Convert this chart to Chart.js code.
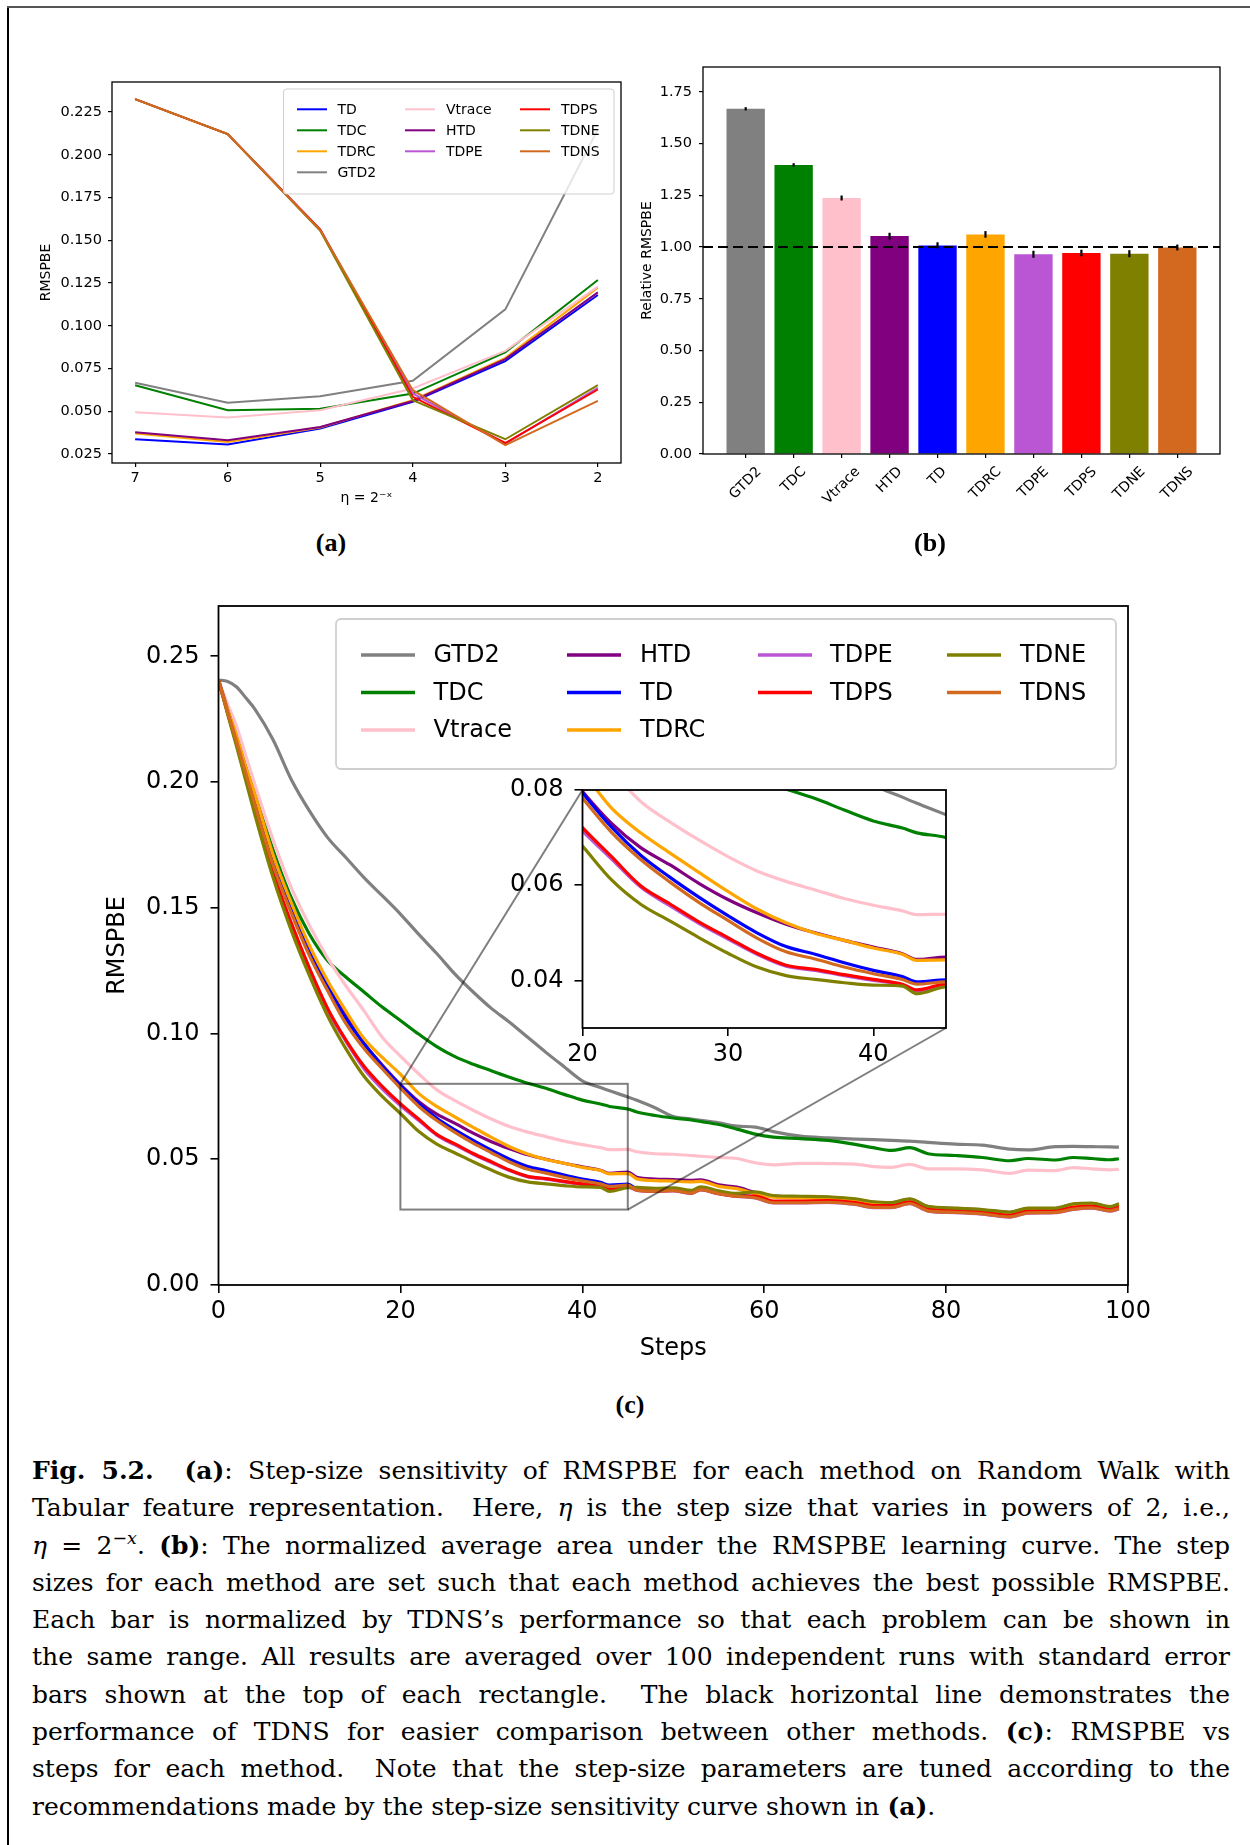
<!DOCTYPE html>
<html><head><meta charset="utf-8">
<script src="https://cdn.jsdelivr.net/npm/chart.js"></script>
<style>
body{margin:0;background:#fff;}
#page{position:relative;width:1250px;height:1845px;overflow:hidden;background:#fff;}
canvas{position:absolute;}
.plab{position:absolute;font-family:"Liberation Serif",serif;font-weight:bold;font-size:26px;transform:translate(-50%,-50%);white-space:nowrap;}
#caption{position:absolute;left:32px;top:1452px;width:1198px;font-family:"DejaVu Serif",serif;font-size:25px;color:#000;}
#caption .ln{height:37.3px;line-height:37.3px;text-align:justify;text-align-last:justify;overflow:visible;}
#caption .ln.last{text-align-last:left;}
#caption sup{font-size:0.7em;line-height:0;vertical-align:0.55em;}
.bl{position:absolute;background:#000;}
</style></head>
<body><div id="page">
<div class="bl" style="left:7px;top:6px;width:1.5px;height:1839px;"></div>
<div class="bl" style="left:7px;top:6px;width:1243px;height:1.5px;background:#555;"></div>
<canvas id="cA" width="620" height="465" style="left:20px;top:60px;"></canvas>
<canvas id="cB" width="615" height="480" style="left:630px;top:50px;"></canvas>
<canvas id="cC" width="1060" height="800" style="left:100px;top:590px;"></canvas>
<canvas id="cI" width="460" height="300" style="left:500px;top:775px;z-index:2;"></canvas>
<div class="plab" style="left:331px;top:543px;">(a)</div>
<div class="plab" style="left:930px;top:543px;">(b)</div>
<div class="plab" style="left:630px;top:1405px;">(c)</div>
<div id="caption">
<div class="ln"><b>Fig. 5.2.</b> &nbsp;<b>(a)</b>: Step-size sensitivity of RMSPBE for each method on Random Walk with</div>
<div class="ln">Tabular feature representation. &nbsp;Here, <i>η</i> is the step size that varies in powers of 2, i.e.,</div>
<div class="ln"><i>η</i> = 2<sup>−<i>x</i></sup>. <b>(b)</b>: The normalized average area under the RMSPBE learning curve. The step</div>
<div class="ln">sizes for each method are set such that each method achieves the best possible RMSPBE.</div>
<div class="ln">Each bar is normalized by TDNS’s performance so that each problem can be shown in</div>
<div class="ln">the same range. All results are averaged over 100 independent runs with standard error</div>
<div class="ln">bars shown at the top of each rectangle. &nbsp;The black horizontal line demonstrates the</div>
<div class="ln">performance of TDNS for easier comparison between other methods. <b>(c)</b>: RMSPBE vs</div>
<div class="ln">steps for each method. &nbsp;Note that the step-size parameters are tuned according to the</div>
<div class="ln last">recommendations made by the step-size sensitivity curve shown in <b>(a)</b>.</div>
</div>
</div>
<script>
// ---------------- DATA ----------------
// (a) step-size sensitivity, eta = 2^-x
const etaExponents = [7, 6, 5, 4, 3, 2];
const sensYTicks = [0.025, 0.05, 0.075, 0.1, 0.125, 0.15, 0.175, 0.2, 0.225];
const sensTD     = [0.0336, 0.0305, 0.0398, 0.0555, 0.0793, 0.1180];
const sensTDC    = [0.0652, 0.0506, 0.0514, 0.0603, 0.0844, 0.1268];
const sensTDRC   = [0.0370, 0.0320, 0.0405, 0.0565, 0.0812, 0.1223];
const sensGTD2   = [0.0666, 0.0550, 0.0588, 0.0678, 0.1096, 0.2150];
const sensVtrace = [0.0494, 0.0463, 0.0506, 0.0633, 0.0853, 0.1229];
const sensHTD    = [0.0377, 0.0330, 0.0408, 0.0560, 0.0805, 0.1195];
const sensTDPE   = [0.2326, 0.2121, 0.1564, 0.0604, 0.0311, 0.0637];
const sensTDPS   = [0.2326, 0.2121, 0.1562, 0.0584, 0.0314, 0.0627];
const sensTDNE   = [0.2326, 0.2121, 0.1555, 0.0565, 0.0336, 0.0652];
const sensTDNS   = [0.2326, 0.2121, 0.1560, 0.0623, 0.0301, 0.0561];

// (b) relative area under curve
const barMethods  = ['GTD2', 'TDC', 'Vtrace', 'HTD', 'TD', 'TDRC', 'TDPE', 'TDPS', 'TDNE', 'TDNS'];
const barRelative = [1.668, 1.397, 1.237, 1.053, 1.008, 1.061, 0.965, 0.971, 0.968, 0.998];
const barErrors   = [0.008, 0.008, 0.012, 0.016, 0.015, 0.016, 0.017, 0.016, 0.017, 0.014];
const barYTicks   = [0, 0.25, 0.5, 0.75, 1.0, 1.25, 1.5, 1.75];
const barReference = 1.0;

// (c) learning curves
const steps = [0,1,2,3,4,6,8,10,12,14,16,18,20,22,24,26,28,30,32,34,36,38,40,42,43,45,46,48,50,52,53,55,57,59,61,64,67,70,72,74,76,78,81,84,87,89,92,94,96,98,99];
const curveGTD2 = [0.2405,0.2400,0.2378,0.2335,0.2290,0.2168,0.2010,0.1885,0.1779,0.1700,0.1620,0.1548,0.1475,0.1395,0.1318,0.1236,0.1165,0.1100,0.1045,0.0985,0.0925,0.0868,0.0812,0.0785,0.0772,0.0748,0.0735,0.0705,0.0670,0.0660,0.0655,0.0645,0.0632,0.0628,0.0610,0.0592,0.0585,0.0580,0.0578,0.0575,0.0572,0.0567,0.0560,0.0556,0.0540,0.0537,0.0550,0.0551,0.0550,0.0549,0.0548];
const curveTDC = [0.2405,0.2290,0.2180,0.2060,0.1950,0.1730,0.1540,0.1395,0.1290,0.1225,0.1165,0.1105,0.1052,0.0998,0.0948,0.0908,0.0878,0.0852,0.0826,0.0802,0.0782,0.0758,0.0735,0.0720,0.0710,0.0700,0.0688,0.0674,0.0664,0.0656,0.0650,0.0638,0.0620,0.0600,0.0588,0.0582,0.0575,0.0559,0.0546,0.0535,0.0546,0.0522,0.0515,0.0507,0.0494,0.0503,0.0497,0.0507,0.0503,0.0498,0.0502];
const curveVtrace = [0.2405,0.2310,0.2220,0.2105,0.1990,0.1770,0.1580,0.1430,0.1300,0.1190,0.1090,0.0985,0.0910,0.0840,0.0776,0.0733,0.0695,0.0660,0.0630,0.0608,0.0590,0.0572,0.0558,0.0546,0.0538,0.0539,0.0530,0.0522,0.0520,0.0515,0.0512,0.0507,0.0503,0.0486,0.0478,0.0484,0.0483,0.0481,0.0471,0.0468,0.0480,0.0462,0.0462,0.0458,0.0444,0.0457,0.0455,0.0467,0.0462,0.0458,0.0460];
const curveHTD = [0.2405,0.2285,0.2170,0.2050,0.1930,0.1690,0.1500,0.1330,0.1190,0.1070,0.0960,0.0875,0.0797,0.0730,0.0679,0.0643,0.0604,0.0570,0.0542,0.0518,0.0500,0.0484,0.0470,0.0456,0.0444,0.0449,0.0428,0.0421,0.0419,0.0416,0.0418,0.0398,0.0389,0.0368,0.0354,0.0351,0.0349,0.0341,0.0329,0.0326,0.0341,0.0311,0.0304,0.0298,0.0288,0.0304,0.0304,0.0321,0.0324,0.0310,0.0321];
const curveTD = [0.2405,0.2285,0.2170,0.2050,0.1930,0.1690,0.1500,0.1330,0.1190,0.1060,0.0960,0.0870,0.0794,0.0722,0.0663,0.0617,0.0575,0.0536,0.0500,0.0471,0.0455,0.0437,0.0421,0.0408,0.0397,0.0401,0.0382,0.0378,0.0380,0.0370,0.0384,0.0368,0.0358,0.0349,0.0329,0.0329,0.0331,0.0323,0.0311,0.0311,0.0326,0.0297,0.0291,0.0285,0.0273,0.0289,0.0291,0.0304,0.0309,0.0297,0.0305];
const curveTDRC = [0.2405,0.2290,0.2180,0.2060,0.1950,0.1710,0.1520,0.1350,0.1210,0.1090,0.0980,0.0905,0.0838,0.0762,0.0710,0.0668,0.0627,0.0587,0.0550,0.0521,0.0499,0.0484,0.0468,0.0455,0.0442,0.0443,0.0422,0.0415,0.0413,0.0410,0.0412,0.0392,0.0383,0.0363,0.0349,0.0346,0.0344,0.0336,0.0324,0.0321,0.0336,0.0306,0.0299,0.0293,0.0283,0.0299,0.0299,0.0316,0.0319,0.0305,0.0316];
const curveTDPE = [0.2405,0.2275,0.2150,0.2020,0.1890,0.1640,0.1430,0.1250,0.1090,0.0970,0.0860,0.0780,0.0714,0.0655,0.0596,0.0557,0.0520,0.0487,0.0455,0.0430,0.0421,0.0410,0.0400,0.0390,0.0378,0.0390,0.0376,0.0372,0.0374,0.0364,0.0378,0.0362,0.0352,0.0346,0.0326,0.0326,0.0328,0.0320,0.0308,0.0308,0.0323,0.0294,0.0288,0.0282,0.0270,0.0286,0.0288,0.0301,0.0306,0.0294,0.0302];
const curveTDPS = [0.2405,0.2275,0.2150,0.2020,0.1890,0.1640,0.1440,0.1260,0.1100,0.0975,0.0870,0.0790,0.0721,0.0660,0.0599,0.0561,0.0523,0.0490,0.0457,0.0432,0.0423,0.0412,0.0402,0.0392,0.0380,0.0392,0.0378,0.0374,0.0376,0.0366,0.0380,0.0364,0.0354,0.0354,0.0334,0.0334,0.0336,0.0328,0.0316,0.0316,0.0331,0.0302,0.0296,0.0290,0.0278,0.0294,0.0296,0.0309,0.0314,0.0302,0.0310];
const curveTDNE = [0.2405,0.2270,0.2140,0.2005,0.1870,0.1620,0.1410,0.1230,0.1070,0.0940,0.0830,0.0750,0.0682,0.0611,0.0560,0.0525,0.0490,0.0457,0.0428,0.0410,0.0402,0.0395,0.0390,0.0388,0.0372,0.0387,0.0388,0.0384,0.0386,0.0376,0.0390,0.0374,0.0364,0.0370,0.0356,0.0353,0.0351,0.0343,0.0331,0.0328,0.0343,0.0313,0.0306,0.0300,0.0290,0.0306,0.0306,0.0323,0.0326,0.0312,0.0323];
const curveTDNS = [0.2405,0.2280,0.2160,0.2035,0.1910,0.1670,0.1480,0.1310,0.1170,0.1040,0.0940,0.0860,0.0783,0.0711,0.0654,0.0607,0.0564,0.0526,0.0489,0.0460,0.0445,0.0428,0.0414,0.0402,0.0392,0.0397,0.0377,0.0373,0.0375,0.0365,0.0379,0.0363,0.0353,0.0347,0.0327,0.0327,0.0329,0.0321,0.0309,0.0309,0.0324,0.0295,0.0289,0.0283,0.0271,0.0287,0.0289,0.0302,0.0307,0.0295,0.0303];
const curveXTicks = [0, 20, 40, 60, 80, 100];
const curveYTicks = [0, 0.05, 0.10, 0.15, 0.20, 0.25];
const zoomX = [20, 45];
const zoomY = [0.03, 0.08];
const insetXTicks = [20, 30, 40];
const insetYTicks = [0.04, 0.06, 0.08];

// ---------------- STYLE ----------------
const COLORS = {TD:'#0000ff', TDC:'#008000', TDRC:'#ffa500', GTD2:'#808080', Vtrace:'#ffc0cb', HTD:'#800080', TDPE:'#ba55d3', TDPS:'#ff0000', TDNE:'#808000', TDNS:'#d2691e'};
Chart.defaults.font.family = 'DejaVu Sans';
Chart.defaults.color = '#000';
const FONT = 'DejaVu Sans';

const sensTable = {TD:sensTD, TDC:sensTDC, TDRC:sensTDRC, GTD2:sensGTD2, Vtrace:sensVtrace, HTD:sensHTD, TDPE:sensTDPE, TDPS:sensTDPS, TDNE:sensTDNE, TDNS:sensTDNS};
const curveTable = {GTD2:curveGTD2, TDC:curveTDC, Vtrace:curveVtrace, HTD:curveHTD, TD:curveTD, TDRC:curveTDRC, TDPE:curveTDPE, TDPS:curveTDPS, TDNE:curveTDNE, TDNS:curveTDNS};
const orderA = ['TD','TDC','TDRC','GTD2','Vtrace','HTD','TDPE','TDPS','TDNE','TDNS'];
const orderC = ['GTD2','TDC','Vtrace','HTD','TD','TDRC','TDPE','TDPS','TDNE','TDNS'];

function frame(chart, w){
  const {ctx, chartArea:ca} = chart;
  ctx.save(); ctx.strokeStyle='#000'; ctx.lineWidth=w;
  ctx.strokeRect(ca.left, ca.top, ca.right-ca.left, ca.bottom-ca.top);
  ctx.restore();
}
function drawLegend(chart, L){
  const {ctx, chartArea:ca} = chart;
  const bx = ca.left + L.left, by = ca.top + L.top;
  ctx.save();
  ctx.beginPath(); ctx.roundRect(bx, by, L.w, L.h, L.radius);
  ctx.fillStyle='rgba(255,255,255,0.8)'; ctx.fill();
  ctx.lineWidth=L.border; ctx.strokeStyle='#cfcfcf'; ctx.stroke();
  ctx.font = L.fontSize + 'px "' + FONT + '"'; ctx.textBaseline='middle'; ctx.textAlign='left';
  L.columns.forEach((col, ci) => col.forEach((name, ri) => {
    const y = by + L.rowY0 + ri*L.rowDy;
    ctx.strokeStyle = COLORS[name]; ctx.lineWidth = L.handleWidth; ctx.lineCap='butt';
    ctx.beginPath(); ctx.moveTo(bx+L.handleX[ci], y); ctx.lineTo(bx+L.handleX[ci]+L.handleLen, y); ctx.stroke();
    ctx.fillStyle='#000'; ctx.fillText(name, bx+L.textX[ci], y+1);
  }));
  ctx.restore();
}
function axisOpts(o){
  return {
    type:'linear', min:o.min, max:o.max, reverse:!!o.reverse, offset:false,
    afterBuildTicks: s => { s.ticks = o.ticks.map(v => ({value:v})); },
    afterFit: s => {
      if (o.axis==='x') s.height = o.size; else s.width = o.size;
      s.paddingTop = 0; s.paddingBottom = 0; s.paddingLeft = 0; s.paddingRight = 0;
    },
    ticks:{display:o.showLabels!==false, font:{family:FONT, size:o.font}, color:'#000', padding:o.pad, maxRotation:0, minRotation:0, autoSkip:false,
      callback: v => o.fmt(v)},
    grid:{display:true, drawOnChartArea:false, drawTicks:true, tickLength:o.tl, color:'#000', lineWidth:o.tw, offset:false},
    border:{display:false},
    title: o.title ? {display:true, text:o.title, font:{family:FONT, size:o.titleSize}, color:'#000', padding:o.titlePad} : {display:false}
  };
}

// ---------------- (a) ----------------
new Chart(document.getElementById('cA'), {
  type:'line',
  data:{datasets: orderA.map((m,i) => ({
    label:m, data: etaExponents.map((x,j) => ({x:x, y:sensTable[m][j]})),
    borderColor:COLORS[m], backgroundColor:COLORS[m], borderWidth:2, pointRadius:0, tension:0, fill:false, order: orderA.length - i
  }))},
  options:{
    responsive:false, animation:false, devicePixelRatio:1,
    layout:{padding:{left:0, top:22, right:19, bottom:0}},
    plugins:{legend:{display:false}, tooltip:{enabled:false}},
    scales:{
      x: axisOpts({axis:'x', min:1.75, max:7.25, reverse:true, ticks:etaExponents, size:62, font:14.5, pad:3, tl:4, tw:1.2, fmt:v=>String(v), title:'η = 2⁻ˣ', titleSize:14, titlePad:{top:0,bottom:18}}),
      y: axisOpts({axis:'y', min:0.0197, max:0.2426, ticks:sensYTicks, size:92, font:14.5, pad:6, tl:4, tw:1.2, fmt:v=>v.toFixed(3), title:'RMSPBE', titleSize:14, titlePad:{top:18,bottom:0}})
    }
  },
  plugins:[{id:'decoA', afterDatasetsDraw(chart){
    frame(chart, 1.3);
    drawLegend(chart, {left:171.5, top:7, w:330.5, h:105, radius:3, border:1, fontSize:14,
      handleX:[13.5,121.5,236.5], textX:[54,162.5,277.5], handleLen:30, handleWidth:2, rowY0:20.3, rowDy:21,
      columns:[orderA.slice(0,4), orderA.slice(4,7), orderA.slice(7)]});
  }}]
});

// ---------------- (b) ----------------
new Chart(document.getElementById('cB'), {
  type:'bar',
  data:{datasets:[{
    data: barMethods.map((m,i) => ({x:i, y:barRelative[i]})),
    backgroundColor: barMethods.map(m => COLORS[m]), borderWidth:0,
    barPercentage:0.8, categoryPercentage:1.0
  }]},
  options:{
    responsive:false, animation:false, devicePixelRatio:1,
    layout:{padding:{left:0, top:17, right:25, bottom:0}},
    plugins:{legend:{display:false}, tooltip:{enabled:false}},
    scales:{
      x: axisOpts({axis:'x', min:-0.89, max:9.89, ticks:barMethods.map((m,i)=>i), showLabels:false, size:76, font:14, pad:3, tl:4, tw:1.2, fmt:v=>''}),
      y: axisOpts({axis:'y', min:0, max:1.87, ticks:barYTicks, size:73, font:14.5, pad:7, tl:4, tw:1.2, fmt:v=>v.toFixed(2), title:'Relative RMSPBE', titleSize:14, titlePad:{top:8.5,bottom:0}})
    }
  },
  plugins:[{id:'decoB', afterDatasetsDraw(chart){
    const {ctx, chartArea:ca, scales:{x:xs, y:ys}} = chart;
    const meta = chart.getDatasetMeta(0);
    ctx.save();
    ctx.strokeStyle='#000'; ctx.lineWidth=2.2;
    meta.data.forEach((bar, i) => {
      ctx.beginPath();
      ctx.moveTo(bar.x, ys.getPixelForValue(barRelative[i]-barErrors[i]));
      ctx.lineTo(bar.x, ys.getPixelForValue(barRelative[i]+barErrors[i]));
      ctx.stroke();
    });
    const yr = ys.getPixelForValue(barReference);
    ctx.setLineDash([10,5]); ctx.lineWidth=2;
    ctx.beginPath(); ctx.moveTo(ca.left, yr); ctx.lineTo(ca.right, yr); ctx.stroke();
    ctx.setLineDash([]);
    ctx.restore();
    frame(chart, 1.3);
  }, afterDraw(chart){
    const {ctx, chartArea:ca, scales:{x:xs}} = chart;
    ctx.save();
    ctx.font = '14px "' + FONT + '"'; ctx.fillStyle='#000';
    barMethods.forEach((m,i) => {
      const x = xs.getPixelForValue(i);
      const w = ctx.measureText(m).width;
      const bh = (w + 13) * Math.SQRT1_2;
      const cy = ca.bottom + 11 + bh/2;
      ctx.save(); ctx.translate(x, cy); ctx.rotate(-Math.PI/4);
      ctx.textAlign='center'; ctx.textBaseline='middle'; ctx.fillText(m, 0, 0);
      ctx.restore();
    });
    ctx.restore();
  }}]
});

// ---------------- (c) inset ----------------
function curveDatasets(width, clip){
  return orderC.map((m,i) => ({
    label:m, data: steps.map((s,j) => ({x:s, y:curveTable[m][j]})),
    borderColor:COLORS[m], backgroundColor:COLORS[m], borderWidth:width, pointRadius:0,
    cubicInterpolationMode:'monotone', fill:false, order: orderC.length - i, clip: clip
  }));
}
const insetCanvas = document.getElementById('cI');
const mainCanvas = document.getElementById('cC');
const inset = new Chart(insetCanvas, {
  type:'line',
  data:{datasets: curveDatasets(3.2, 0)},
  options:{
    responsive:false, animation:false, devicePixelRatio:1,
    layout:{padding:{left:0, top:15, right:14, bottom:0}},
    plugins:{legend:{display:false}, tooltip:{enabled:false}},
    scales:{
      x: axisOpts({axis:'x', min:zoomX[0], max:zoomX[1], ticks:insetXTicks, size:47, font:24, pad:4.5, tl:8, tw:1.6, fmt:v=>String(v)}),
      y: axisOpts({axis:'y', min:zoomY[0], max:zoomY[1], ticks:insetYTicks, size:82.5, font:24, pad:11, tl:8, tw:1.6, fmt:v=>v.toFixed(2)})
    }
  },
  plugins:[{id:'bgI', beforeDatasetsDraw(chart){
    const {ctx, chartArea:ca} = chart;
    ctx.save(); ctx.fillStyle='#fff'; ctx.fillRect(ca.left, ca.top, ca.right-ca.left, ca.bottom-ca.top); ctx.restore();
  }, afterDatasetsDraw(chart){ frame(chart, 1.8); }}]
});

// ---------------- (c) main ----------------
new Chart(mainCanvas, {
  type:'line',
  data:{datasets: curveDatasets(3.2)},
  options:{
    responsive:false, animation:false, devicePixelRatio:1,
    layout:{padding:{left:0, top:16, right:32, bottom:0}},
    plugins:{legend:{display:false}, tooltip:{enabled:false}},
    scales:{
      x: axisOpts({axis:'x', min:0, max:100, ticks:curveXTicks, size:105, font:24, pad:4.5, tl:8, tw:1.6, fmt:v=>String(v), title:'Steps', titleSize:24, titlePad:{top:0,bottom:26.6}}),
      y: axisOpts({axis:'y', min:0, max:0.27, ticks:curveYTicks, size:118.5, font:24, pad:11, tl:8, tw:1.6, fmt:v=>v.toFixed(2), title:'RMSPBE', titleSize:24, titlePad:{top:3.6,bottom:0}})
    }
  },
  plugins:[{id:'decoC', afterDatasetsDraw(chart){
    const {ctx, chartArea:ca, scales:{x:xs, y:ys}} = chart;
    const x0 = xs.getPixelForValue(zoomX[0]), x1 = xs.getPixelForValue(zoomX[1]);
    const y0 = ys.getPixelForValue(zoomY[0]), y1 = ys.getPixelForValue(zoomY[1]);
    const dx = parseFloat(insetCanvas.style.left) - parseFloat(mainCanvas.style.left);
    const dy = parseFloat(insetCanvas.style.top) - parseFloat(mainCanvas.style.top);
    const ia = inset.chartArea;
    ctx.save();
    ctx.strokeStyle='rgba(0,0,0,0.5)'; ctx.lineWidth=2;
    ctx.strokeRect(x0, y1, x1-x0, y0-y1);
    ctx.beginPath();
    ctx.moveTo(x0, y1); ctx.lineTo(dx+ia.left, dy+ia.top);
    ctx.moveTo(x1, y0); ctx.lineTo(dx+ia.right, dy+ia.bottom);
    ctx.stroke();
    ctx.restore();
    frame(chart, 1.8);
    drawLegend(chart, {left:117.5, top:13, w:780, h:150, radius:5, border:1.8, fontSize:24,
      handleX:[25,231,422,611], textX:[97.6,304,494,684], handleLen:54, handleWidth:3.5, rowY0:36, rowDy:37.5,
      columns:[orderC.slice(0,3), orderC.slice(3,6), orderC.slice(6,8), orderC.slice(8)]});
  }}]
});
</script>
</body></html>
